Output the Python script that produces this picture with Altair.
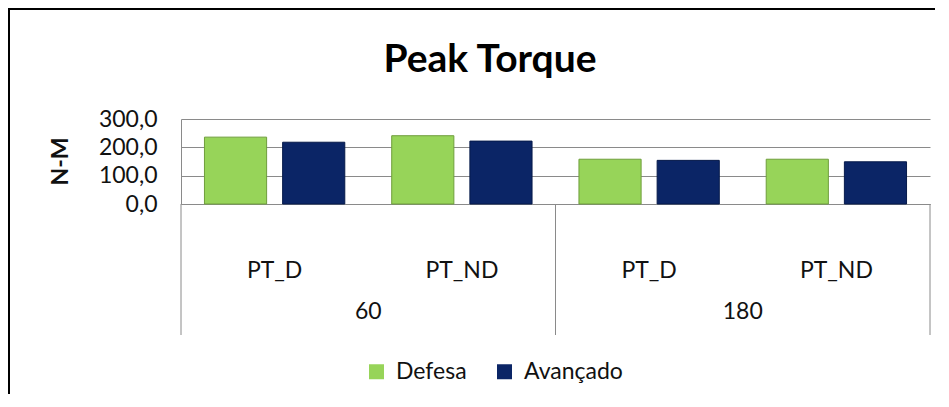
import altair as alt
import pandas as pd

# ---- data ----
groups = ["60", "60", "180", "180"]
subcats = ["PT_D", "PT_ND", "PT_D", "PT_ND"]
series_names = ["Defesa", "Avançado"]
defesa = [236, 241, 158, 158]
avancado = [218, 222, 154, 149]
y_ticks = [0, 100, 200, 300]
group_labels = ["60", "180"]
chart_title = ["Peak Torque"]

cats = [f"{g}|{s}" for g, s in zip(groups, subcats)]

rows = []
for c, d, a in zip(cats, defesa, avancado):
    rows.append({"cat": c, "series": "Defesa", "value": d})
    rows.append({"cat": c, "series": "Avançado", "value": a})
df = pd.DataFrame(rows)

df_groups = pd.DataFrame({"cat": [cats[0], cats[2]], "label": group_labels})
df_div = pd.DataFrame({"cat": [cats[0], cats[2]]})
df_end = pd.DataFrame({"cat": [cats[3]]})
df_title = pd.DataFrame({"t": chart_title})

FONT = "Lato"
GRID = "#8a8a8a"
GREEN = "#97D459"
NAVY = "#0B2566"

W, H = 749, 85

x_scale = alt.Scale(domain=cats, paddingInner=0, paddingOuter=0)

bars = alt.Chart(df).mark_bar(strokeWidth=1).encode(
    x=alt.X("cat:N", scale=x_scale, sort=cats,
            axis=alt.Axis(title=None, labelExpr="split(datum.value, '|')[1]",
                          ticks=False, tickSize=0, labelPadding=66,
                          labelBaseline="middle", labelAngle=0,
                          labelFont=FONT, labelFontSize=23, labelColor="#111",
                          domain=True, domainColor=GRID, grid=False)),
    xOffset=alt.XOffset("series:N", sort=series_names,
                        scale=alt.Scale(domain=series_names, paddingInner=0.205, paddingOuter=0.3)),
    y=alt.Y("value:Q", scale=alt.Scale(domain=[0, 300], nice=False),
            axis=alt.Axis(title="N-M", values=y_ticks,
                          labelExpr="replace(format(datum.value, '.1f'), '.', ',')",
                          ticks=False, tickSize=0, labelPadding=24,
                          labelFont=FONT, labelFontSize=23, labelColor="#111",
                          titleFont=FONT, titleFontSize=23, titleFontWeight="bold",
                          titleColor="#111", titleAngle=270, titleX=-121, titleY=42,
                          titleAlign="center", titleBaseline="middle",
                          domain=True, domainColor=GRID,
                          grid=True, gridColor=GRID, gridWidth=1)),
    color=alt.Color("series:N", sort=series_names,
                    scale=alt.Scale(domain=series_names, range=[GREEN, NAVY]),
                    legend=alt.Legend(title=None, orient="none", direction="horizontal",
                                      legendX=184, legendY=241,
                                      symbolType="square", symbolSize=225,
                                      symbolStrokeWidth=0,
                                      labelFont=FONT, labelFontSize=23, labelColor="#111",
                                      labelOffset=8, columnPadding=26)),
    stroke=alt.Stroke("series:N", sort=series_names,
                      scale=alt.Scale(domain=series_names, range=["#6F9E3C", "#061A4A"]),
                      legend=None),
)

group_text = alt.Chart(df_groups).mark_text(
    font=FONT, fontSize=23, color="#111", baseline="middle", align="center"
).encode(
    x=alt.X("cat:N", bandPosition=1),
    y=alt.value(193),
    text="label:N",
)

div_rules = alt.Chart(df_div).mark_rule(color=GRID, strokeWidth=1).encode(
    x=alt.X("cat:N", bandPosition=0),
    y=alt.value(H),
    y2=alt.value(216),
)

end_rule = alt.Chart(df_end).mark_rule(color=GRID, strokeWidth=1).encode(
    x=alt.X("cat:N", bandPosition=1),
    y=alt.value(H),
    y2=alt.value(216),
)

title_text = alt.Chart(df_title).mark_text(
    font=FONT, fontSize=39, fontWeight="bold", color="#000",
    align="center", baseline="alphabetic"
).encode(
    x=alt.value(309),
    y=alt.value(-47),
    text="t:N",
)

# outer chart border (top and left edges visible in the reference)
border_top = alt.Chart(df_end).mark_rule(color="#000", strokeWidth=2).encode(
    x=alt.value(-172), x2=alt.value(770), y=alt.value(-110)
)
border_left = alt.Chart(df_end).mark_rule(color="#000", strokeWidth=2).encode(
    x=alt.value(-172), y=alt.value(-111), y2=alt.value(300)
)

chart = alt.layer(bars, group_text, div_rules, end_rule, title_text,
                  border_top, border_left).properties(
    width=W, height=H,
    autosize=alt.AutoSizeParams(type="none"),
    padding={"left": 173, "top": 111, "right": 5, "bottom": 190},
).configure_view(stroke=None)

chart.save("out.html", embed_options={"renderer": "svg", "actions": False})
